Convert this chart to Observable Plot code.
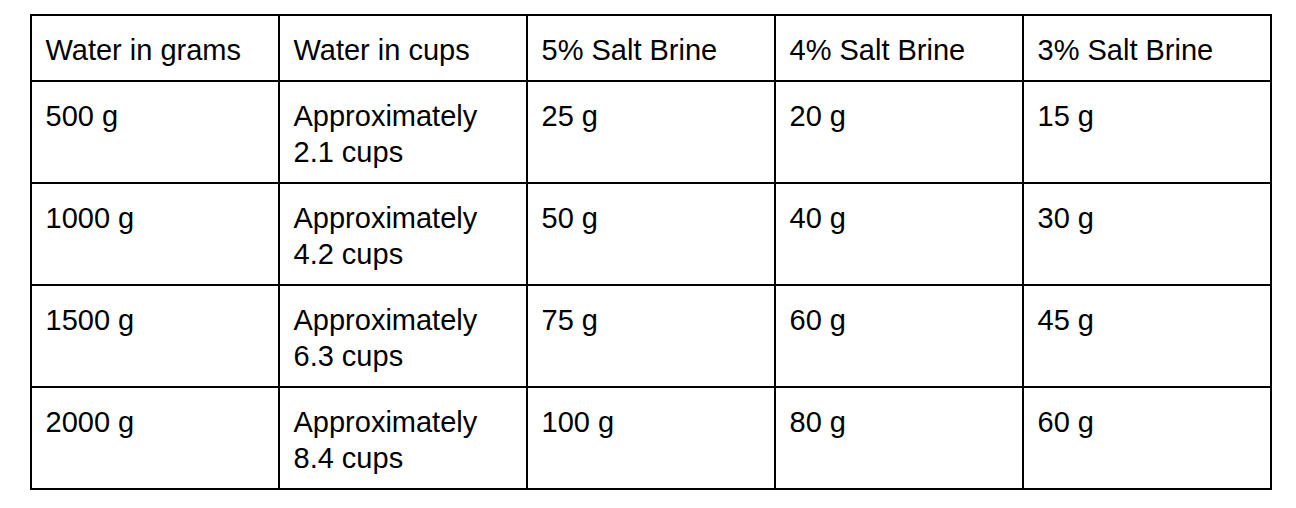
<!DOCTYPE html>
<html>
<head>
<meta charset="utf-8">
<script src="https://cdn.jsdelivr.net/npm/d3@7"></script>
<script src="https://cdn.jsdelivr.net/npm/@observablehq/plot@0.6"></script>
<style>
  html, body { margin: 0; padding: 0; background: #fff; }
  #chart { width: 1296px; height: 508px; }
</style>
</head>
<body>
<div id="chart"></div>
<script>
const headers = ["Water in grams", "Water in cups", "5% Salt Brine", "4% Salt Brine", "3% Salt Brine"];
const waterGrams = [500, 1000, 1500, 2000];
const waterCups = [2.1, 4.2, 6.3, 8.4];
const salt5 = [25, 50, 75, 100];
const salt4 = [20, 40, 60, 80];
const salt3 = [15, 30, 45, 60];

// Build table rows of cell texts
const tableRows = [headers];
waterGrams.forEach((g, i) => {
  tableRows.push([
    `${g} g`,
    `Approximately\n${waterCups[i].toFixed(1)} cups`,
    `${salt5[i]} g`,
    `${salt4[i]} g`,
    `${salt3[i]} g`
  ]);
});

// row heights from number of text lines (padding + lines * line height)
const cellPad = 30, lineH = 36;
const cells = [];
let rowTop = 0;
tableRows.forEach((r, ri) => {
  const lines = d3.max(r, s => s.split("\n").length);
  const h = cellPad + lines * lineH;
  r.forEach((t, ci) => {
    cells.push({col: ci, y1: rowTop, y2: rowTop + h, text: t});
  });
  rowTop += h;
});
const totalH = rowTop;

const W = 1296, H = 508;
const mL = 31, mR = 25, mT = 15, mB = 19;

const chart = Plot.plot({
  width: W,
  height: H,
  marginLeft: mL,
  marginRight: mR,
  marginTop: mT,
  marginBottom: mB,
  style: {fontFamily: "'Liberation Sans', Arial, sans-serif", background: "#fff"},
  x: {domain: [0, headers.length], axis: null},
  y: {domain: [0, totalH], range: [mT, H - mB], axis: null},
  marks: [
    Plot.rect(cells, {
      x1: "col",
      x2: d => d.col + 1,
      y1: "y1",
      y2: "y2",
      fill: "none",
      stroke: "#000",
      strokeWidth: 2
    }),
    Plot.text(cells, {
      x: "col",
      y: "y1",
      text: "text",
      textAnchor: "start",
      lineAnchor: "top",
      lineHeight: 36 / 29,
      dx: 14,
      dy: 19,
      fontSize: 29,
      fill: "#000"
    })
  ]
});
document.getElementById("chart").appendChild(chart);
</script>
</body>
</html>
